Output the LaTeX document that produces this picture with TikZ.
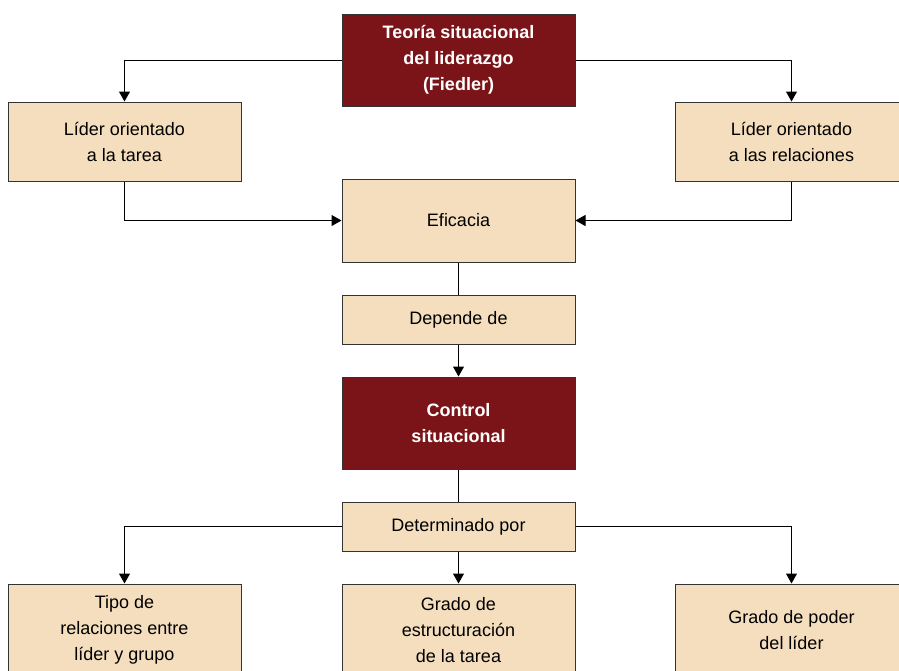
\documentclass[tikz,border=0pt]{standalone}
\usepackage{fontspec}
\setmainfont{Liberation Sans}
\usetikzlibrary{arrows.meta}
\definecolor{beige}{HTML}{F4DEBE}
\definecolor{darkred}{HTML}{7B1418}
\definecolor{edge}{HTML}{333333}
\begin{document}
\begin{tikzpicture}[x=1pt,y=-1pt,
  box/.style={draw=edge,line width=1pt,fill=beige,rectangle,inner sep=0pt,
    minimum width=233pt,align=center,font=\fontsize{18}{26}\selectfont,text=black},
  keybox/.style={box,fill=darkred,text=white,font=\fontsize{18}{26}\selectfont\bfseries},
  arr/.style={draw=black,line width=1pt,-{Triangle[length=10pt,width=11pt]}},
  ln/.style={draw=black,line width=1pt}]
\useasboundingbox (0,0) rectangle (899,670);
\clip (0,0) rectangle (899,670);
\fill[white] (0,0) rectangle (899,670);
\node[keybox,minimum height=92pt] (top) at (458.5,60) {Teoría situacional\\del liderazgo\\(Fiedler)};
\node[box,minimum height=79pt] (left) at (124.5,141.5) {Líder orientado\\a la tarea};
\node[box,minimum height=79pt] (right) at (791.5,141.5) {Líder orientado\\a las relaciones};
\node[box,minimum height=83pt] (efi) at (458.5,220.5) {Eficacia};
\node[box,minimum height=49pt] (dep) at (458.5,319.5) {Depende de};
\node[keybox,minimum height=92pt] (ctrl) at (458.5,423) {Control\\situacional};
\node[box,minimum height=49pt] (det) at (458.5,526.5) {Determinado por};
\node[box,minimum height=92pt] (b1) at (124.5,630) {Tipo de\\relaciones entre\\líder y grupo};
\node[box,minimum height=92pt] (b2) at (458.5,630) {Grado de\\estructuración\\de la tarea};
\node[box,minimum height=92pt] (b3) at (791.5,630) {Grado de poder\\del líder};
\draw[arr] (top.west) -| (left.north);
\draw[arr] (top.east) -| (right.north);
\draw[arr] (left.south) |- (efi.west);
\draw[arr] (right.south) |- (efi.east);
\draw[ln] (efi.south) -- (dep.north);
\draw[arr] (dep.south) -- (ctrl.north);
\draw[ln] (ctrl.south) -- (det.north);
\draw[arr] (det.west) -| (b1.north);
\draw[arr] (det.south) -- (b2.north);
\draw[arr] (det.east) -| (b3.north);
\end{tikzpicture}
\end{document}
